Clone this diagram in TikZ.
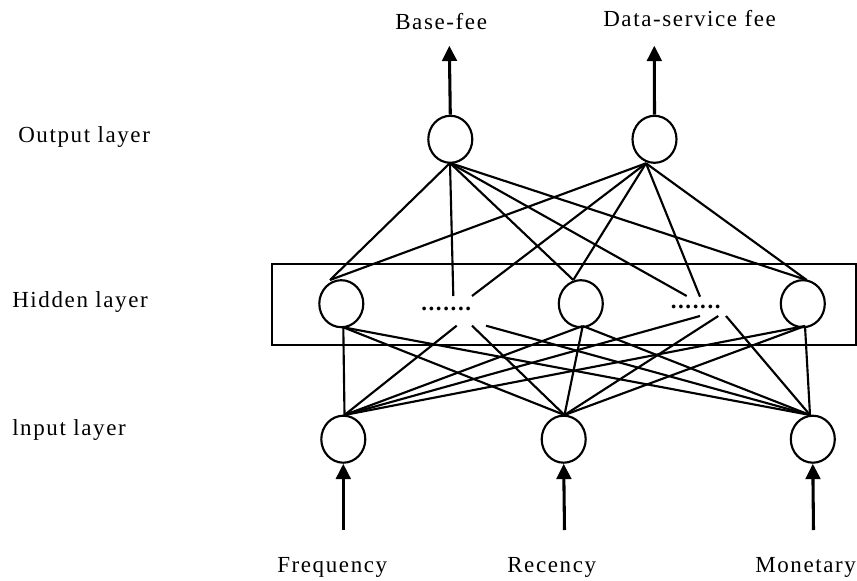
\documentclass[tikz,border=0pt]{standalone}
\usepackage{fontspec}
\setmainfont{Liberation Serif}
\newfontfamily\lab{Liberation Serif}[LetterSpace=7]
\usetikzlibrary{arrows.meta,shapes.geometric}
\begin{document}
\begin{tikzpicture}[x=0.75pt,y=-0.75pt,
  neuron/.style={draw,ellipse,line width=1.6pt,minimum width=33pt,minimum height=35.25pt,inner sep=0pt},
  conn/.style={line width=1.6pt},
  ioarrow/.style={line width=2.3pt,-{Triangle[length=11.5pt,width=11pt]}},
  lbl/.style={anchor=base west,inner sep=0pt,font=\lab\fontsize{17.25}{20}\selectfont},
  dotsnode/.style={anchor=base west,inner sep=0pt,font=\lab\fontsize{17.25}{20}\selectfont\bfseries}]
\useasboundingbox (0,0) rectangle (857,581);

% hidden layer box
\draw[line width=1.6pt] (271.7,264.3) rectangle (856,345);

% neurons
\node[neuron] (o1) at (450.3,139.3) {};
\node[neuron] (o2) at (654.5,139.3) {};
\node[neuron] (h1) at (341.3,303.7) {};
\node[neuron] (h2) at (580.8,303.7) {};
\node[neuron] (h3) at (802.8,303.7) {};
\node[neuron] (i1) at (343.3,439.2) {};
\node[neuron] (i2) at (563.7,439.2) {};
\node[neuron] (i3) at (812.8,439.2) {};

% ellipsis dots in hidden layer
\node[dotsnode] (d1) at (421,310) {.......};
\node[dotsnode] (d2) at (670.5,308) {.......};

% connection anchor points
\coordinate (o1b) at (450,163);
\coordinate (o2b) at (646,163.3);
\coordinate (h1t) at (330,280);
\coordinate (h2t) at (573.3,280);
\coordinate (h3t) at (806.7,280);
\coordinate (d1ta) at (453.3,296);
\coordinate (d1tb) at (472,296);
\coordinate (d2ta) at (686.7,296);
\coordinate (d2tb) at (700,296.7);
\coordinate (h1b) at (343.3,327.3);
\coordinate (h2b) at (582.7,326);
\coordinate (h3b) at (805,326);
\coordinate (d1ba) at (456.7,325.7);
\coordinate (d1bb) at (472,325.7);
\coordinate (d1bc) at (486,325.7);
\coordinate (d2ba) at (700,316);
\coordinate (d2bb) at (718.3,316);
\coordinate (d2bc) at (726,316);
\coordinate (i1t) at (344.5,415);
\coordinate (i2t) at (564.5,415);
\coordinate (i3t) at (810,415);

% output -> hidden
\foreach \t in {h1t,d1ta,h2t,d2ta,h3t} \draw[conn] (o1b) -- (\t);
\foreach \t in {h1t,d1tb,h2t,d2tb,h3t} \draw[conn] (o2b) -- (\t);

% hidden -> input
\foreach \s in {h1b,h2b,h3b} {
  \draw[conn] (\s) -- (i1t);
  \draw[conn] (\s) -- (i2t);
  \draw[conn] (\s) -- (i3t);
}
\draw[conn] (d1ba) -- (i1t);
\draw[conn] (d1bb) -- (i2t);
\draw[conn] (d1bc) -- (i3t);
\draw[conn] (d2ba) -- (i1t);
\draw[conn] (d2bb) -- (i2t);
\draw[conn] (d2bc) -- (i3t);

% output arrows
\coordinate (out1) at (449.3,45.7);
\coordinate (out2) at (654.3,45.7);
\draw[ioarrow] (o1.north) -- (out1);
\draw[ioarrow] (o2.north) -- (out2);

% input arrows
\coordinate (in1) at (343.3,530);
\coordinate (in2) at (564.5,530);
\coordinate (in3) at (813.5,530);
\draw[ioarrow] (in1) -- (i1.south);
\draw[ioarrow] (in2) -- (i2.south);
\draw[ioarrow] (in3) -- (i3.south);

% labels
\node[lbl] (tbase) at (395,30) {Base-fee};
\node[lbl] (tdata) at (603,27) {Data-service fee};
\node[lbl] (tout) at (18,143) {Output layer};
\node[lbl] (thid) at (12,307) {Hidden layer};
\node[lbl] (tin) at (12,435) {lnput layer};
\node[lbl] (tfreq) at (277,572.5) {Frequency};
\node[lbl] (trec) at (507,572.5) {Recency};
\node[lbl] (tmon) at (755,572.5) {Monetary};
\end{tikzpicture}
\end{document}
